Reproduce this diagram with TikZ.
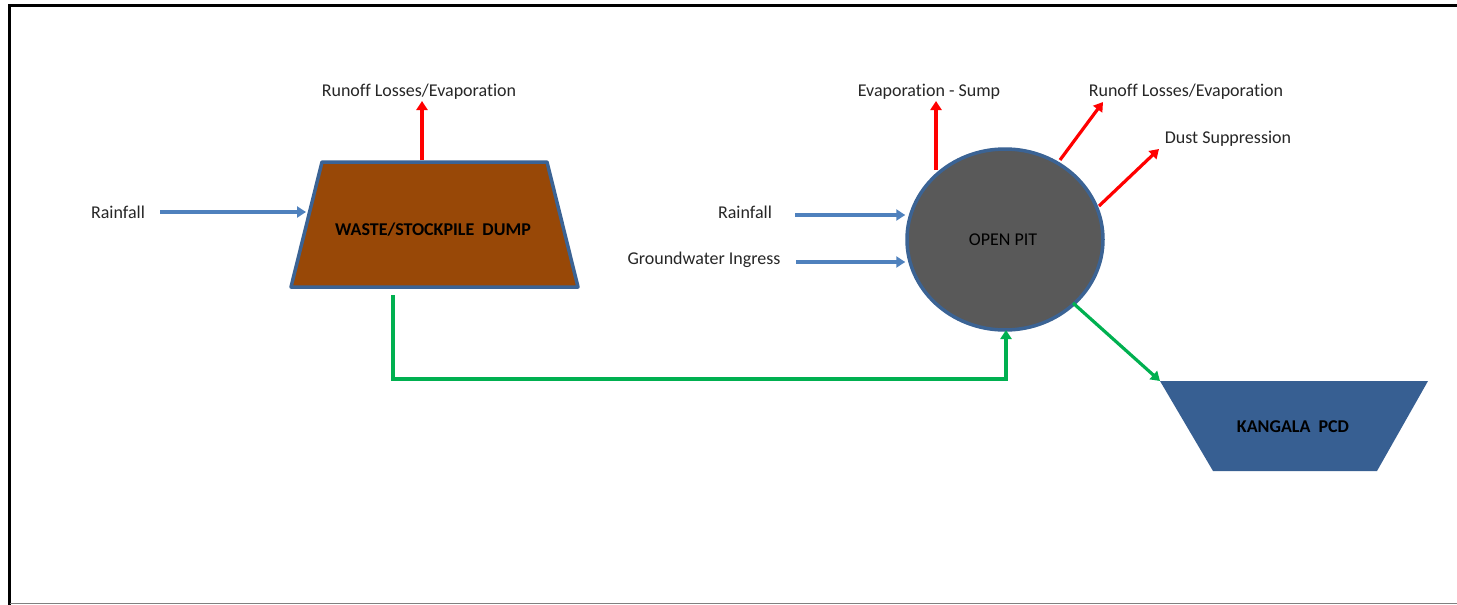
\documentclass[tikz,border=0pt]{standalone}
\usepackage{fontspec}
\setmainfont{Carlito}[RawFeature={-liga;-clig;-calt;-dlig}]
\usetikzlibrary{arrows.meta,shapes.geometric}
\definecolor{inflow}{HTML}{4F81BD}
\definecolor{loss}{HTML}{FF0000}
\definecolor{transfer}{HTML}{00B050}
\definecolor{outline}{HTML}{3B6394}
\definecolor{dumpfill}{HTML}{984807}
\definecolor{pitfill}{HTML}{595959}
\definecolor{pcdfill}{HTML}{375F92}
\tikzset{
  lbl/.style={font=\fontsize{18}{20}\selectfont, inner sep=0pt, text=black!85},
  boxlbl/.style={font=\fontsize{18}{20}\selectfont\bfseries, inner sep=0pt, text=black},
  flowtip/.style={-{Triangle[length=9pt,width=11pt]}, line width=3.2pt},
  inarrow/.style={flowtip, draw=inflow},
  lossarrow/.style={flowtip, draw=loss},
  xferarrow/.style={flowtip, draw=transfer},
}
\begin{document}
\begin{tikzpicture}[x=1pt,y=-1pt]
\useasboundingbox (0,0) rectangle (1457,605);
% page frame
\draw[line width=3pt] (9.5,605) -- (9.5,5) -- (1457,5);
\draw[line width=1.5pt, gray] (9.5,603.5) -- (1457,603.5);

% waste / stockpile dump
\coordinate (dTL) at (322,162);
\coordinate (dTR) at (547,162);
\coordinate (dBR) at (578,287);
\coordinate (dBL) at (291,287);
\draw[line width=3.5pt, draw=outline, fill=dumpfill, line join=round]
  (dTL) -- (dTR) -- (dBR) -- (dBL) -- cycle;
\node[boxlbl] (dump) at (433,230) {WASTE/STOCKPILE\ \ DUMP};
\coordinate (dumpTop) at (422,160);
\coordinate (dumpIn) at (306,212);
\coordinate (dumpOut) at (393,295);

% open pit
\node[ellipse, draw=outline, line width=3.5pt, fill=pitfill,
      minimum width=196pt, minimum height=181pt, inner sep=0pt] (pit) at (1005,239.5) {};
\node[font=\fontsize{18}{20}\selectfont, inner sep=0pt] (pitlbl) at (1003,240) {OPEN PIT};

% Kangala PCD
\coordinate (pTL) at (1160,381);
\coordinate (pTR) at (1428,381);
\coordinate (pBR) at (1377,471);
\coordinate (pBL) at (1213,471);
\fill[pcdfill] (pTL) -- (pTR) -- (pBR) -- (pBL) -- cycle;
\node[boxlbl] (pcd) at (1293,427) {KANGALA\ \ PCD};

% labels
\node[lbl] (rainL) at (118,212) {Rainfall};
\node[lbl] (runoffL) at (419,92) {Runoff Losses/Evaporat\kern0pt ion};
\node[lbl] (rainR) at (745,212) {Rainfall};
\node[lbl] (gw) at (704,260) {Groundwater Ingress};
\node[lbl] (sump) at (929,92) {Evaporat\kern0pt ion - Sump};
\node[lbl] (runoffR) at (1186,92) {Runoff Losses/Evaporat\kern0pt ion};
\node[lbl] (dust) at (1228,139) {Dust Suppression};

% inflows
\draw[inarrow] (160,212) -- (dumpIn);
\draw[inarrow] (795,215) -- (pit.west |- 0,215);
\draw[inarrow] (796,262) -- (pit.west |- 0,262);

% losses
\draw[lossarrow] (dumpTop) -- (422,101);
\draw[lossarrow] (936,170) -- (936,101);
\draw[lossarrow] (1060,160) -- (1103,102);
\draw[lossarrow] (1099,206) -- (1159,149);

% transfers
\draw[xferarrow, -] (dumpOut) -- (393,379) -- (1006,379) -- (1006,340);
\draw[xferarrow] (1006,345) -- (1006,330);
\draw[xferarrow] (1073,303) -- (pTL);
\end{tikzpicture}
\end{document}
